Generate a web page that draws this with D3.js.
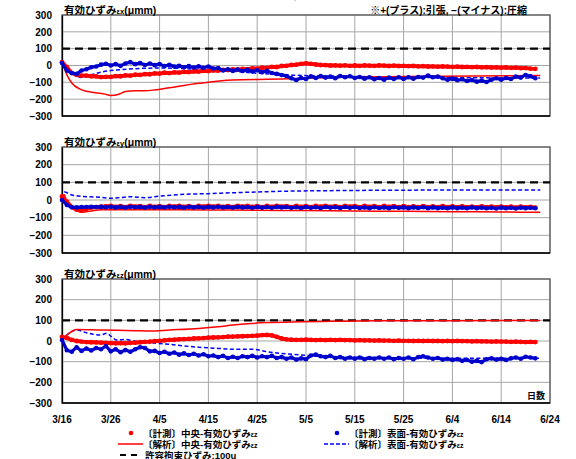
<!DOCTYPE html>
<html>
<head>
<meta charset="utf-8">
<script src="https://cdn.jsdelivr.net/npm/d3@7"></script>
<style>
  body { margin: 0; background: #fff; }
  text { font-family: "Liberation Sans", "Noto Sans CJK JP", sans-serif; font-weight: bold; }
</style>
</head>
<body>
<script>
// dates on x axis (day 0 = 3/16)
tickDays = [0, 10, 20, 30, 40, 50, 60, 70, 80, 90, 100]
tickLabels = ["3/16", "3/26", "4/5", "4/15", "4/25", "5/5", "5/15", "5/25", "6/4", "6/14", "6/24"]
yTicks = [-300, -200, -100, 0, 100, 200, 300]
limitValue = 100

// measured, one value per day (day 0..97)
exCenter = [20, -10, -45, -56, -60, -60, -64, -65, -69, -67,
  -67, -63, -64, -59, -60, -55, -56, -51, -52, -47,
  -48, -43, -45, -41, -42, -38, -39, -35, -36, -32,
  -33, -29, -30, -26, -27, -23, -24, -20, -21, -17,
  -18, -13, -14, -8, -9, -3, -2, 3, 5, 10,
  13, 10, 6, 3, 2, 0, 1, -1, 1, -2,
  0, -2, 0, -1, -2, 0, -1, -3, -1, -3,
  -2, -4, -3, -5, -4, -6, -5, -7, -6, -7,
  -8, -7, -9, -8, -10, -9, -11, -10, -12, -11,
  -13, -12, -14, -13, -16, -15, -18, -20]
exSurface = [15, -30, -45, -50, -30, -22, -10, -6, 5, 10,
  0, 8, -2, 12, 20, 8, 15, 3, 12, 2,
  8, -3, 4, -6, -2, -10, -4, -12, -5, -13,
  -6, -18, -15, -30, -22, -32, -24, -33, -26, -36,
  -28, -40, -32, -45, -50, -56, -62, -76, -86, -74,
  -80, -64, -74, -62, -72, -66, -76, -62, -70, -64,
  -74, -68, -78, -70, -82, -74, -84, -72, -80, -70,
  -80, -70, -78, -68, -72, -60, -70, -66, -76, -84,
  -78, -88, -82, -92, -86, -96, -90, -98, -84, -76,
  -84, -74, -80, -66, -72, -56, -64, -76]
eyCenter = [20, -10, -40, -55, -60, -50, -43, -40, -38, -36,
  -34, -39, -35, -40, -33, -38, -35, -40, -34, -39,
  -35, -40, -34, -38, -33, -39, -35, -40, -34, -38,
  -33, -38, -34, -39, -35, -40, -33, -38, -34, -39,
  -35, -40, -34, -39, -33, -38, -35, -40, -34, -39,
  -35, -40, -34, -38, -33, -39, -35, -40, -34, -38,
  -35, -40, -34, -39, -35, -40, -34, -39, -35, -41,
  -35, -40, -36, -41, -35, -40, -36, -41, -35, -40,
  -36, -41, -36, -40, -37, -42, -36, -41, -37, -42,
  -37, -42, -38, -43, -38, -42, -39, -43]
eySurface = [0, -28, -41, -42, -40, -40, -38, -40, -39, -41,
  -38, -42, -39, -43, -38, -41, -39, -43, -38, -42,
  -39, -42, -38, -41, -39, -43, -38, -42, -39, -43,
  -39, -42, -38, -42, -40, -43, -39, -42, -40, -44,
  -39, -43, -40, -44, -39, -42, -40, -44, -41, -45,
  -40, -44, -41, -45, -40, -43, -41, -45, -40, -44,
  -41, -45, -42, -46, -41, -45, -42, -46, -41, -44,
  -42, -46, -42, -45, -41, -46, -42, -46, -43, -47,
  -42, -46, -43, -47, -42, -46, -43, -47, -44, -48,
  -43, -47, -44, -48, -43, -46, -44, -47]
ezCenter = [20, 15, 5, 0, -3, -5, -6, -7, -8, -9,
  -10, -11, -10, -11, -9, -8, -6, -4, -3, -1,
  1, 3, 5, 6, 8, 9, 10, 12, 13, 14,
  16, 17, 18, 19, 21, 21, 22, 23, 24, 25,
  26, 28, 29, 27, 20, 12, 8, 6, 5, 5,
  6, 5, 4, 5, 4, 5, 4, 5, 4, 4,
  3, 4, 3, 3, 2, 3, 2, 2, 1, 2,
  1, 1, 0, 1, 0, 1, 0, 0, -1, 0,
  -1, 0, -1, -1, -2, -1, -2, -2, -3, -2,
  -3, -3, -4, -3, -4, -5, -4, -5]
ezSurface = [5, -45, -52, -30, -48, -36, -46, -34, -40, -24,
  -50, -40, -54, -44, -52, -40, -30, -34, -50, -48,
  -58, -52, -62, -56, -66, -60, -68, -62, -70, -64,
  -74, -70, -78, -72, -82, -76, -82, -74, -78, -72,
  -80, -74, -78, -72, -82, -78, -86, -80, -90, -84,
  -88, -70, -66, -74, -78, -72, -82, -78, -86, -80,
  -86, -80, -88, -82, -86, -80, -86, -80, -88, -82,
  -86, -80, -88, -78, -74, -80, -86, -82, -90, -86,
  -92, -88, -96, -92, -100, -96, -102, -88, -84, -90,
  -86, -92, -84, -80, -86, -76, -80, -84]

// analysis, values at read-off days
axDays = [0, 1, 2, 3.7, 5.3, 8.8, 10, 11.5, 13, 15, 17, 19, 22, 28, 35, 42, 45, 55, 70, 85, 98]
axCenter = [25, -56, -104, -140, -155, -170, -178, -172, -155, -150, -150, -145, -132, -106, -86, -82, -80, -72, -66, -62, -60]
bxDays = [0, 2, 4, 6, 10, 20, 30, 45, 60, 80, 98]
bxSurface = [0, -40, -72, -55, -30, -15, -25, -55, -65, -72, -75]
ayDays = [0, 0.5, 1, 3, 4, 6, 8, 12, 20, 30, 40, 50, 60, 70, 80, 90, 98]
ayCenter = [10, 30, -20, -60, -70, -62, -55, -55, -55, -56, -58, -60, -62, -64, -66, -68, -70]
byDays = [0, 0.5, 2, 5, 8, 10, 12, 14, 17, 20, 25, 30, 35, 42, 48, 55, 65, 75, 85, 98]
bySurface = [10, 45, 28, 19, 15, 10, 14, 19, 13, 22, 32, 36, 41, 47, 51, 53, 55, 56, 56, 56]
azDays = [0, 1, 3, 8, 15, 18, 22, 28, 32, 35, 42, 49, 55, 65, 80, 98]
azCenter = [10, 29, 56, 53, 50, 48, 53, 61, 69, 77, 89, 93, 95, 98, 98, 99]
bzDays = [0, 1, 2, 3, 5, 7.8, 9.2, 10, 11.2, 13, 14.6, 18, 22, 25, 28, 32, 35, 39, 42, 45, 49, 55, 65, 80, 98]
bzSurface = [0, 29, 45, 53, 40, 29, 37, 24, 5, 8, 0, -8, -16, -24, -30, -36, -40, -40, -52, -60, -68, -76, -80, -84, -84]

red = "#ff0000"
blue = "#0000cc"
dashBlue = "#0000ff"

panels = [
  {sub: "εx", top: 15, bottom: 116, c: exCenter, s: exSurface, ad: axDays, a: axCenter, bd: bxDays, b: bxSurface},
  {sub: "εy", top: 147, bottom: 253, c: eyCenter, s: eySurface, ad: ayDays, a: ayCenter, bd: byDays, b: bySurface},
  {sub: "εz", top: 279, bottom: 403, c: ezCenter, s: ezSurface, ad: azDays, a: azCenter, bd: bzDays, b: bzSurface}
]

left = 62
right = 550

x = d3.scaleLinear().domain([0, 100]).range([left, right])

svg = d3.select("body").append("svg")
  .attr("width", 576)
  .attr("height", 459)

// title, mostly above the picture's top edge
svg.append("text")
  .attr("x", 177).attr("y", -2)
  .attr("font-size", 13)
  .attr("textLength", 320)
  .text("有効ひずみの経時変化グラフ（計測値と解析値の比較）")

panels.forEach((p, k) => {
  const y = d3.scaleLinear().domain([-300, 300]).range([p.bottom, p.top])
  const g = svg.append("g")

  // grid
  g.selectAll(".hg").data(yTicks).join("line")
    .attr("x1", left).attr("x2", right)
    .attr("y1", d => y(d)).attr("y2", d => y(d))
    .attr("stroke", "#a6a6a6").attr("stroke-width", 1)
  g.selectAll(".vg").data(tickDays).join("line")
    .attr("x1", d => x(d)).attr("x2", d => x(d))
    .attr("y1", p.top).attr("y2", p.bottom)
    .attr("stroke", "#a6a6a6").attr("stroke-width", 1)

  // frame
  g.append("rect")
    .attr("x", left).attr("y", p.top)
    .attr("width", right - left).attr("height", p.bottom - p.top)
    .attr("fill", "none").attr("stroke", "#595959").attr("stroke-width", 1.3)

  // y axis
  const ya = g.append("g")
    .attr("transform", `translate(${left},0)`)
    .call(d3.axisLeft(y).tickValues(yTicks).tickSize(0).tickPadding(10).tickFormat(d3.format("d")))
  ya.select(".domain").attr("stroke", "#000").attr("stroke-width", 1.3)
  ya.selectAll("text").attr("font-size", 10).attr("fill", "#000")
    .style("font-family", '"Liberation Sans", sans-serif').style("font-weight", "bold")

  // x axis line
  g.append("line")
    .attr("x1", left).attr("x2", right)
    .attr("y1", p.bottom).attr("y2", p.bottom)
    .attr("stroke", "#000").attr("stroke-width", 1.3)

  // limit line
  g.append("line")
    .attr("x1", left).attr("x2", right)
    .attr("y1", y(limitValue)).attr("y2", y(limitValue))
    .attr("stroke", "#000").attr("stroke-width", 2.2)
    .attr("stroke-dasharray", "8,5")

  const line = d3.line().x(d => x(d[0])).y(d => y(d[1]))
  const smooth = d3.line().x(d => x(d[0])).y(d => y(d[1])).curve(d3.curveMonotoneX)
  const daily = arr => arr.map((v, i) => [i, v])
  const pairs = (ds, vs) => ds.map((d, i) => [d, vs[i]])

  // analysis surface (dashed blue)
  g.append("path")
    .attr("d", smooth(pairs(p.bd, p.b)))
    .attr("fill", "none").attr("stroke", dashBlue).attr("stroke-width", 1.5)
    .attr("stroke-dasharray", "4,2.5")

  // measured center (red)
  g.append("path")
    .attr("d", line(daily(p.c)))
    .attr("fill", "none").attr("stroke", red).attr("stroke-width", 3.8)
    .attr("stroke-linejoin", "round")
  g.selectAll(".rc").data(daily(p.c)).join("circle")
    .attr("cx", d => x(d[0])).attr("cy", d => y(d[1])).attr("r", 2.4)
    .attr("fill", red)

  // analysis center (red line)
  g.append("path")
    .attr("d", smooth(pairs(p.ad, p.a)))
    .attr("fill", "none").attr("stroke", red).attr("stroke-width", 1.5)

  // measured surface (blue)
  g.append("path")
    .attr("d", line(daily(p.s)))
    .attr("fill", "none").attr("stroke", blue).attr("stroke-width", 3.2)
    .attr("stroke-linejoin", "round")
  g.selectAll(".bc").data(daily(p.s)).join("circle")
    .attr("cx", d => x(d[0])).attr("cy", d => y(d[1])).attr("r", 2.3)
    .attr("fill", blue)

  // panel title
  const t = svg.append("text")
    .attr("x", 64).attr("y", p.top - 1.5)
    .attr("font-size", 10.5).attr("fill", "#000")
  t.append("tspan").text("有効ひずみ")
  t.append("tspan").attr("font-size", 7.5).text(p.sub)
  t.append("tspan").text("(μmm)")
})

// x labels
svg.selectAll(".xl").data(tickDays).join("text")
  .attr("x", d => x(d)).attr("y", 423)
  .attr("text-anchor", "middle").attr("font-size", 10)
  .text((d, i) => tickLabels[i])

svg.append("text")
  .attr("x", 527).attr("y", 14)
  .attr("text-anchor", "end").attr("font-size", 10)
  .text("※+(プラス):引張, −(マイナス):圧縮")

svg.append("text")
  .attr("x", 545).attr("y", 399)
  .attr("text-anchor", "end").attr("font-size", 9)
  .text("日数")

// legend
legendItems = [
  {label: "〔計測〕中央-有効ひずみ", type: "dot", color: red, x: 131, y: 433},
  {label: "〔計測〕表面-有効ひずみ", type: "dot", color: blue, x: 337, y: 433},
  {label: "〔解析〕中央-有効ひずみ", type: "line", color: red, x: 131, y: 444},
  {label: "〔解析〕表面-有効ひずみ", type: "dash", color: dashBlue, x: 337, y: 444}
]
legendItems.forEach(d => {
  if (d.type === "dot") {
    svg.append("circle").attr("cx", d.x).attr("cy", d.y).attr("r", 2.3).attr("fill", d.color)
  } else {
    svg.append("line").attr("x1", d.x - 13).attr("x2", d.x + 12)
      .attr("y1", d.y).attr("y2", d.y)
      .attr("stroke", d.color).attr("stroke-width", 1.5)
      .attr("stroke-dasharray", d.type === "dash" ? "4,2" : null)
  }
  const t = svg.append("text").attr("x", d.x + 12).attr("y", d.y + 3.5).attr("font-size", 9.5)
  t.append("tspan").text(d.label)
  t.append("tspan").attr("font-size", 7).text("εz")
})
svg.append("line").attr("x1", 120).attr("x2", 137).attr("y1", 455).attr("y2", 455)
  .attr("stroke", "#000").attr("stroke-width", 2).attr("stroke-dasharray", "6,5")
svg.append("text").attr("x", 145).attr("y", 458.5).attr("font-size", 9.5)
  .text("許容拘束ひずみ:100u")
</script>
</body>
</html>
